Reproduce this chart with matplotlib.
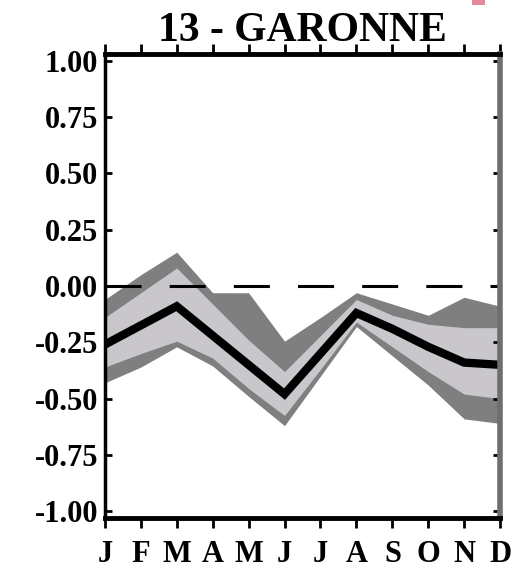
import numpy as np
import matplotlib
matplotlib.use("Agg")
import matplotlib.pyplot as plt
from matplotlib.patches import Rectangle

# monthly values
months = ["J", "F", "M", "A", "M", "J", "J", "A", "S", "O", "N", "D"]
mean_corr = [-0.26, -0.175, -0.09, -0.22, -0.35, -0.48, -0.30, -0.12, -0.19, -0.27, -0.34, -0.35]
inner_hi = [-0.14, -0.03, 0.08, -0.08, -0.24, -0.38, -0.22, -0.06, -0.13, -0.17, -0.185, -0.185]
inner_lo = [-0.36, -0.30, -0.245, -0.32, -0.455, -0.575, -0.37, -0.16, -0.27, -0.38, -0.48, -0.50]
outer_hi = [-0.06, 0.05, 0.15, -0.03, -0.03, -0.245, -0.14, -0.03, -0.08, -0.13, -0.05, -0.09]
outer_lo = [-0.43, -0.36, -0.27, -0.355, -0.49, -0.62, -0.40, -0.18, -0.31, -0.44, -0.59, -0.61]
yticks = [1.0, 0.75, 0.5, 0.25, 0.0, -0.25, -0.5, -0.75, -1.0]

serif = "Liberation Serif"
x = np.arange(len(months))

fig = plt.figure(figsize=(5.14, 5.68), dpi=100)
ax = fig.add_axes([0.204, 0.088, 0.769, 0.817])

ax.fill_between(x, outer_lo, outer_hi, color="#7f7f7f", lw=0)
ax.fill_between(x, inner_lo, inner_hi, color="#c9c7cc", lw=0)
ax.plot(x, mean_corr, color="black", lw=6, solid_joinstyle="miter")
ax.axhline(0, color="black", lw=2.2, linestyle=(0, (11.8, 9.2)))

ax.set_xlim(0, 11)
ax.set_ylim(-1.03, 1.03)
ax.set_xticks(x)
ax.set_xticklabels(months, fontfamily=serif, fontweight="bold", fontsize=22)
ax.set_yticks(yticks)
ax.set_yticklabels(["%.2f" % v if v >= 0 else "-%.2f" % abs(v) for v in yticks],
                   fontfamily=serif, fontweight="bold", fontsize=22)

ax.tick_params(axis="y", direction="in", length=5, width=2, left=True, right=True, pad=5)
ax.tick_params(axis="x", direction="out", length=7, width=2, top=True, bottom=True, pad=9)

ax.spines["left"].set_linewidth(2.5)
for s in ["top", "bottom"]:
    ax.spines[s].set_linewidth(3.5)
ax.spines["right"].set_linewidth(4)
ax.spines["right"].set_color("#6e6e6e")

ax.set_title("13 - GARONNE", fontfamily=serif, fontweight="bold", fontsize=30, pad=9)

# small pink mark at the top right corner of the original
fig.patches.append(Rectangle((0.918, 0.991), 0.025, 0.009, transform=fig.transFigure,
                             color="#e8889c", lw=0))

fig.savefig("out.png", dpi=100)
